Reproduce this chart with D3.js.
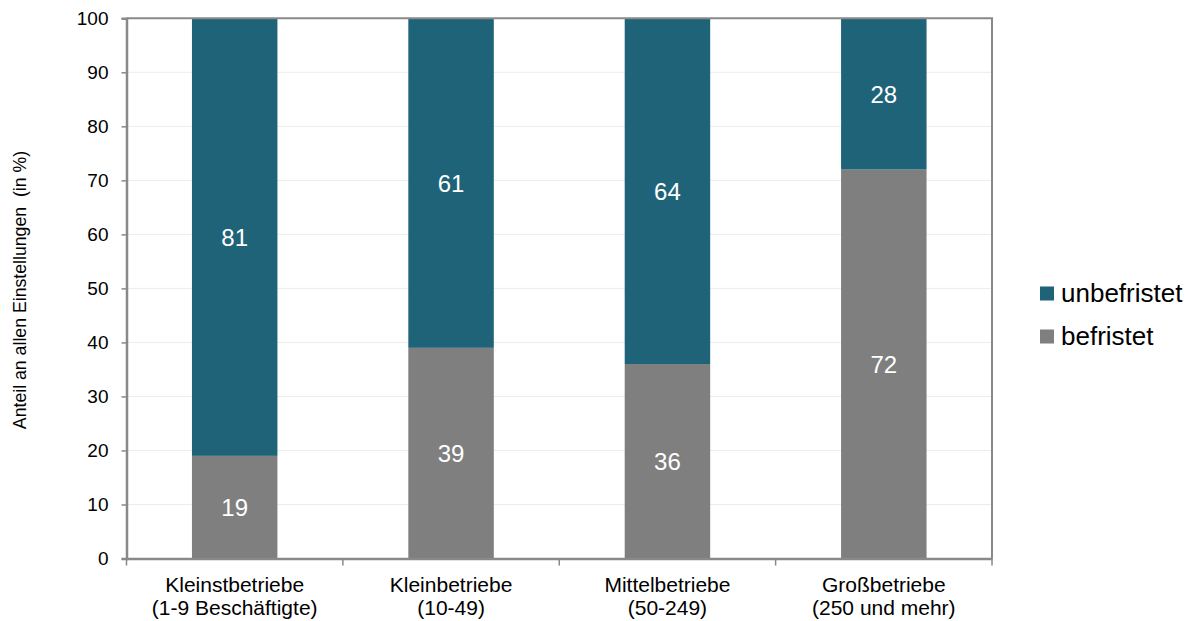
<!DOCTYPE html>
<html><head><meta charset="utf-8">
<script src="https://cdn.jsdelivr.net/npm/d3@7"></script>
<style>body{margin:0;background:#fff}svg{font-family:"Liberation Sans",Arial,sans-serif}</style>
</head><body>
<svg id="c" width="1195" height="621"></svg>
<script>
const categories = [["Kleinstbetriebe","(1-9 Beschäftigte)"],["Kleinbetriebe","(10-49)"],["Mittelbetriebe","(50-249)"],["Großbetriebe","(250 und mehr)"]];
const befristet = [19, 39, 36, 72];
const unbefristet = [81, 61, 64, 28];
const seriesNames = ["unbefristet","befristet"];
const colors = {unbefristet:"#1f6379", befristet:"#7f7f7f"};
const yTicks = [0,10,20,30,40,50,60,70,80,90,100];

const svg = d3.select("#c");
const L=126.5, R=992, T=18.3, B=558.5;
const x = d3.scaleBand().domain(d3.range(categories.length)).range([L,R]).paddingInner(0.605).paddingOuter(0.3025);
const xb = d3.scaleBand().domain(d3.range(categories.length)).range([L,R]);
const y = d3.scaleLinear().domain([0,100]).range([B,T]);

// gridlines
svg.append("g").selectAll("line").data(yTicks.filter(d=>d>0&&d<100)).join("line")
  .attr("x1",L).attr("x2",R).attr("y1",d=>y(d)).attr("y2",d=>y(d))
  .attr("stroke","#ececec").attr("stroke-width",1);

// bars
const stacked = categories.map((c,i)=>({i, b:befristet[i], u:unbefristet[i]}));
const g = svg.append("g");
g.selectAll("rect.b").data(stacked).join("rect")
  .attr("x",d=>x(d.i)).attr("width",x.bandwidth())
  .attr("y",d=>y(d.b)).attr("height",d=>y(0)-y(d.b))
  .attr("fill",colors.befristet);
g.selectAll("rect.u").data(stacked).join("rect")
  .attr("x",d=>x(d.i)).attr("width",x.bandwidth())
  .attr("y",d=>y(d.b+d.u)).attr("height",d=>y(d.b)-y(d.b+d.u))
  .attr("fill",colors.unbefristet);

// value labels
g.selectAll("text.b").data(stacked).join("text")
  .attr("x",d=>x(d.i)+x.bandwidth()/2).attr("y",d=>y(d.b/2)).attr("dy","0.36em")
  .attr("text-anchor","middle").attr("fill","#fff").attr("font-size",24).text(d=>d.b);
g.selectAll("text.u").data(stacked).join("text")
  .attr("x",d=>x(d.i)+x.bandwidth()/2).attr("y",d=>y(d.b+d.u/2)).attr("dy","0.36em")
  .attr("text-anchor","middle").attr("fill","#fff").attr("font-size",24).text(d=>d.u);

// frame (top & right)
svg.append("path").attr("d",`M${L},${T}H${R}V${B}`).attr("fill","none").attr("stroke","#898989").attr("stroke-width",2);

// y axis
const ya = svg.append("g").attr("transform",`translate(${L},0)`)
  .call(d3.axisLeft(y).tickValues(yTicks).tickSize(5).tickPadding(13));
ya.select(".domain").attr("stroke","#898989").attr("stroke-width",2.5);
ya.selectAll(".tick line").attr("stroke","#898989").attr("stroke-width",1.5);
ya.selectAll("text").attr("font-size",19).attr("fill","#000").attr("font-family","Liberation Sans, Arial, sans-serif");

// x axis
const xa = svg.append("g").attr("transform",`translate(0,${B})`)
  .call(d3.axisBottom(xb).tickSize(0).tickFormat(""));
xa.select(".domain").attr("stroke","#898989").attr("stroke-width",2.5);
svg.append("g").selectAll("line").data(d3.range(categories.length+1)).join("line")
  .attr("x1",d=>L+d*xb.bandwidth()).attr("x2",d=>L+d*xb.bandwidth())
  .attr("y1",B).attr("y2",B+7).attr("stroke","#898989").attr("stroke-width",1.5);
const cl = svg.append("g").selectAll("text").data(categories).join("text")
  .attr("text-anchor","middle").attr("font-size",21).attr("fill","#000")
  .attr("x",(d,i)=>xb(i)+xb.bandwidth()/2);
cl.append("tspan").attr("y",592).attr("x",(d,i)=>xb(i)+xb.bandwidth()/2).text(d=>d[0]);
cl.append("tspan").attr("y",614.5).attr("x",(d,i)=>xb(i)+xb.bandwidth()/2).text(d=>d[1]);

// y title
svg.append("text").attr("transform","translate(26,290) rotate(-90)")
  .attr("text-anchor","middle").attr("font-size",17.7).attr("fill","#000")
  .attr("xml:space","preserve").text("Anteil an allen Einstellungen  (in %)");

// legend
const lg = svg.append("g").selectAll("g").data(seriesNames).join("g")
  .attr("transform",(d,i)=>`translate(1040,${286.5+i*43})`);
lg.append("rect").attr("width",14).attr("height",14).attr("fill",d=>colors[d]);
lg.append("text").attr("x",21).attr("y",15).attr("font-size",26).attr("fill","#000").text(d=>d);
</script>
</body></html>
